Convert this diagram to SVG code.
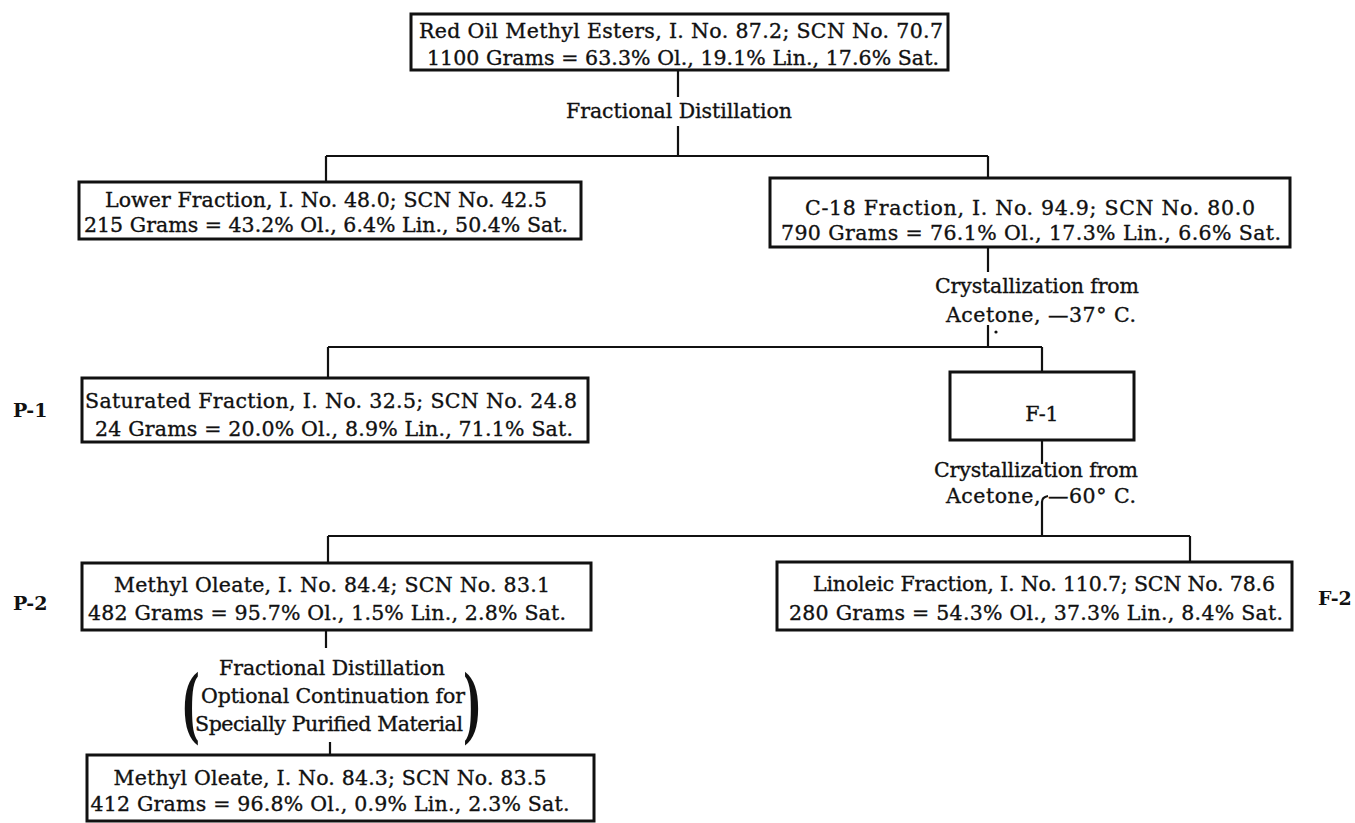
<svg xmlns="http://www.w3.org/2000/svg" width="1355" height="823" viewBox="0 0 1355 823">
<style>
.box{fill:none;stroke:#111;stroke-width:3}
.c{fill:none;stroke:#111;stroke-width:2.2}
.t{font-family:"DejaVu Serif","Liberation Serif",serif;font-size:20.5px;fill:#111;stroke:#111;stroke-width:0.35;text-anchor:middle}
.s{text-anchor:start}
.lb{font-family:"DejaVu Serif","Liberation Serif",serif;font-size:19px;font-weight:bold;fill:#111}
.par{font-family:"DejaVu Serif","Liberation Serif",serif;font-size:80px;font-weight:bold;fill:#111}
</style>
<rect width="1355" height="823" fill="#fff"/>
<g id="connectors">
<path class="c" d="M678 70V97M678 126V156M326 156H988M326 156V182M988 156V178"/>
<path class="c" d="M988 247V272M988 325V347M328 347H1042M328 347V378M1042 347V372"/>
<circle cx="996" cy="332" r="1.6" fill="#111"/>
<path class="c" d="M1042 440V464"/>
<path class="c" d="M1042 536V502Q1042 497 1048 496" stroke-width="4"/>
<path class="c" d="M328 536H1190M328 536V563M1190 536V562"/>
<path class="c" d="M326 630V648M330 742V755"/>
</g>
<g id="n-red-oil">
<rect class="box" x="411" y="14" width="537" height="56"/>
<text class="t" x="681" y="38" textLength="524" lengthAdjust="spacing">Red Oil Methyl Esters, I. No. 87.2; SCN No. 70.7</text>
<text class="t" x="683" y="65" textLength="512" lengthAdjust="spacing">1100 Grams = 63.3% Ol., 19.1% Lin., 17.6% Sat.</text>
</g>
<g id="l-fd1"><text class="t" x="679" y="118" textLength="226" lengthAdjust="spacing">Fractional Distillation</text></g>
<g id="n-lower">
<rect class="box" x="79" y="182" width="502" height="57"/>
<text class="t" x="326" y="207" textLength="442" lengthAdjust="spacing">Lower Fraction, I. No. 48.0; SCN No. 42.5</text>
<text class="t" x="326" y="232" textLength="484" lengthAdjust="spacing">215 Grams = 43.2% Ol., 6.4% Lin., 50.4% Sat.</text>
</g>
<g id="n-c18">
<rect class="box" x="770" y="178" width="520" height="69"/>
<text class="t" x="1030" y="215" textLength="450" lengthAdjust="spacing">C-18 Fraction, I. No. 94.9; SCN No. 80.0</text>
<text class="t" x="1031" y="240" textLength="500" lengthAdjust="spacing">790 Grams = 76.1% Ol., 17.3% Lin., 6.6% Sat.</text>
</g>
<g id="l-cryst1">
<text class="t" x="1037" y="293" textLength="204" lengthAdjust="spacing">Crystallization from</text>
<text class="t" x="1041" y="322" textLength="190" lengthAdjust="spacing">Acetone, —37° C.</text>
</g>
<g id="n-saturated">
<rect class="box" x="82" y="378" width="506" height="64"/>
<text class="t s" x="85" y="408" textLength="492" lengthAdjust="spacing">Saturated Fraction, I. No. 32.5; SCN No. 24.8</text>
<text class="t s" x="95" y="436" textLength="478" lengthAdjust="spacing">24 Grams = 20.0% Ol., 8.9% Lin., 71.1% Sat.</text>
</g>
<g id="l-p1"><text class="lb" x="13" y="417">P-1</text></g>
<g id="n-f1">
<rect class="box" x="950" y="372" width="184" height="68"/>
<text class="t" x="1042" y="421">F-1</text>
</g>
<g id="l-cryst2">
<text class="t" x="1036" y="477" textLength="204" lengthAdjust="spacing">Crystallization from</text>
<text class="t" x="1041" y="503" textLength="190" lengthAdjust="spacing">Acetone, —60° C.</text>
</g>
<g id="n-oleate1">
<rect class="box" x="82" y="563" width="509" height="67"/>
<text class="t" x="332" y="592" textLength="436" lengthAdjust="spacing">Methyl Oleate, I. No. 84.4; SCN No. 83.1</text>
<text class="t" x="327" y="620" textLength="478" lengthAdjust="spacing">482 Grams = 95.7% Ol., 1.5% Lin., 2.8% Sat.</text>
</g>
<g id="l-p2"><text class="lb" x="13" y="610">P-2</text></g>
<g id="n-linoleic">
<rect class="box" x="777" y="562" width="515" height="68"/>
<text class="t" x="1044" y="591" textLength="462" lengthAdjust="spacing">Linoleic Fraction, I. No. 110.7; SCN No. 78.6</text>
<text class="t" x="1036" y="620" textLength="494" lengthAdjust="spacing">280 Grams = 54.3% Ol., 37.3% Lin., 8.4% Sat.</text>
</g>
<g id="l-f2"><text class="lb" x="1318" y="605">F-2</text></g>
<g id="l-fd2">
<text class="t" x="332" y="675" textLength="226" lengthAdjust="spacing">Fractional Distillation</text>
<text class="t" x="333" y="703" textLength="264" lengthAdjust="spacing">Optional Continuation for</text>
<text class="t" x="329" y="731" textLength="268" lengthAdjust="spacing">Specially Purified Material</text>
<text class="par" transform="translate(181 733) scale(0.5 1)">(</text>
<text class="par" transform="translate(463 733) scale(0.5 1)">)</text>
</g>
<g id="n-oleate2">
<rect class="box" x="87" y="755" width="507" height="66"/>
<text class="t" x="330" y="785" textLength="433" lengthAdjust="spacing">Methyl Oleate, I. No. 84.3; SCN No. 83.5</text>
<text class="t" x="330" y="811" textLength="479" lengthAdjust="spacing">412 Grams = 96.8% Ol., 0.9% Lin., 2.3% Sat.</text>
</g>
</svg>
